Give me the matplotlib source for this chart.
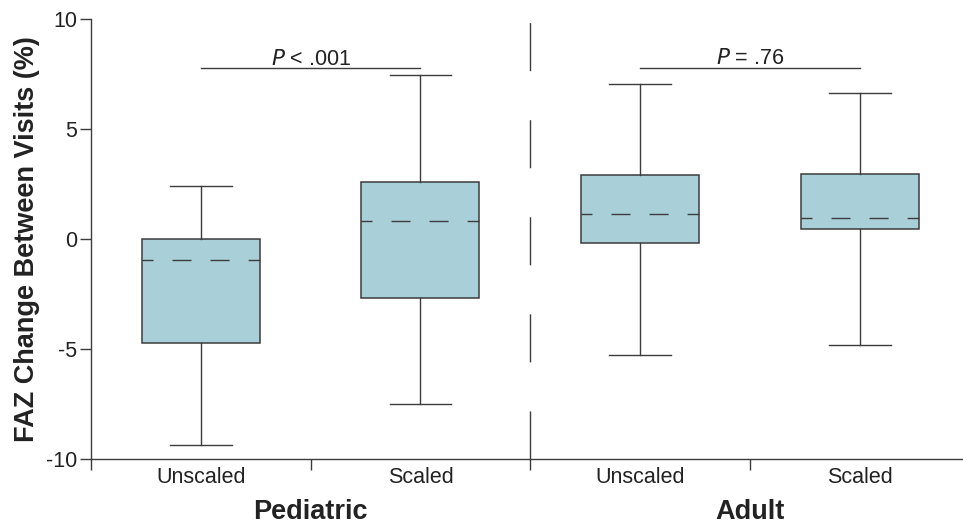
import matplotlib
matplotlib.use('Agg')
from matplotlib import pyplot as plt
from matplotlib.transforms import blended_transform_factory

# Box summary values (FAZ change, %).
groups = ['Pediatric', 'Adult']
conditions = ['Unscaled', 'Scaled', 'Unscaled', 'Scaled']
whis_low = [-9.36, -7.50, -5.27, -4.82]
q1 = [-4.71, -2.68, -0.18, 0.45]
medians = [-0.94, 0.82, 1.14, 0.94]
q3 = [0.00, 2.60, 2.91, 2.94]
whis_high = [2.41, 7.45, 7.03, 6.64]
p_labels = ['$\\it{P}$ < .001', '$\\it{P}$ = .76']
p_heights = [7.77, 7.79]

plt.rcParams['font.family'] = ['Liberation Sans', 'DejaVu Sans']
plt.rcParams['axes.unicode_minus'] = False

line_c = '#3c3c3c'
box_c = '#a9cfd8'
text_c = '#222222'

fig = plt.figure(figsize=(9.63, 5.27), dpi=100)
ax = fig.add_axes([91 / 963, 1 - 459 / 527, 1 - 91 / 963, 440 / 527])

positions = [i + 0.5 for i in range(len(conditions))]
stats = []
for i in range(len(conditions)):
    stats.append({'med': medians[i], 'q1': q1[i], 'q3': q3[i],
                  'whislo': whis_low[i], 'whishi': whis_high[i], 'fliers': []})

ax.bxp(stats, positions=positions, widths=0.537, capwidths=0.28,
       showfliers=False, patch_artist=True,
       boxprops=dict(facecolor=box_c, edgecolor=line_c, linewidth=1.1),
       whiskerprops=dict(color=line_c, linewidth=1.0),
       capprops=dict(color=line_c, linewidth=1.0),
       medianprops=dict(color=line_c, linewidth=1.0,
                        linestyle=(5.8, (13.7, 13.7))))

# P-value brackets
for g in range(len(groups)):
    x0, x1 = positions[2 * g], positions[2 * g + 1]
    ax.plot([x0, x1], [p_heights[g], p_heights[g]], color=line_c, lw=1.0)
    ax.text((x0 + x1) / 2, p_heights[g] + 0.15, p_labels[g], ha='center',
            va='baseline', fontsize=15.5, color=text_c)

# group divider
ax.axvline(2, ymin=0, ymax=(9.86 + 10) / 20, color=line_c, lw=1.0,
           linestyle=(0, (34.6, 35.3)))

ax.set_xlim(0, 3.97)
ax.set_ylim(-10, 10)
ax.set_yticks([-10, -5, 0, 5, 10])
ax.set_xticks([0, 1, 2, 3])
ax.set_xticklabels([])
ax.set_xticks(positions, minor=True)
ax.set_xticklabels(conditions, minor=True)
ax.tick_params(axis='x', which='major', direction='out', length=8, width=1.0,
               color=line_c)
ax.tick_params(axis='x', which='minor', length=0, pad=6, labelsize=15.5,
               labelcolor=text_c)
ax.tick_params(axis='y', direction='out', length=8, width=1.0, color=line_c,
               labelsize=15.5, labelcolor=text_c, pad=2)

for s in ['top', 'right']:
    ax.spines[s].set_visible(False)
for s in ['left', 'bottom']:
    ax.spines[s].set_color(line_c)
    ax.spines[s].set_linewidth(1.0)

ax.set_ylabel('FAZ Change Between Visits (%)', fontsize=19.5,
              fontweight='bold', color=text_c)
ax.yaxis.set_label_coords(-0.073, 0.5)
ax.yaxis.label.set_va('center')

trans = blended_transform_factory(ax.transData, ax.transAxes)
for g in range(len(groups)):
    ax.text(1 + 2 * g, -0.12, groups[g], transform=trans, ha='center',
            va='center', fontsize=19.5, fontweight='bold', color=text_c)

fig.savefig('out.png', dpi=100)
